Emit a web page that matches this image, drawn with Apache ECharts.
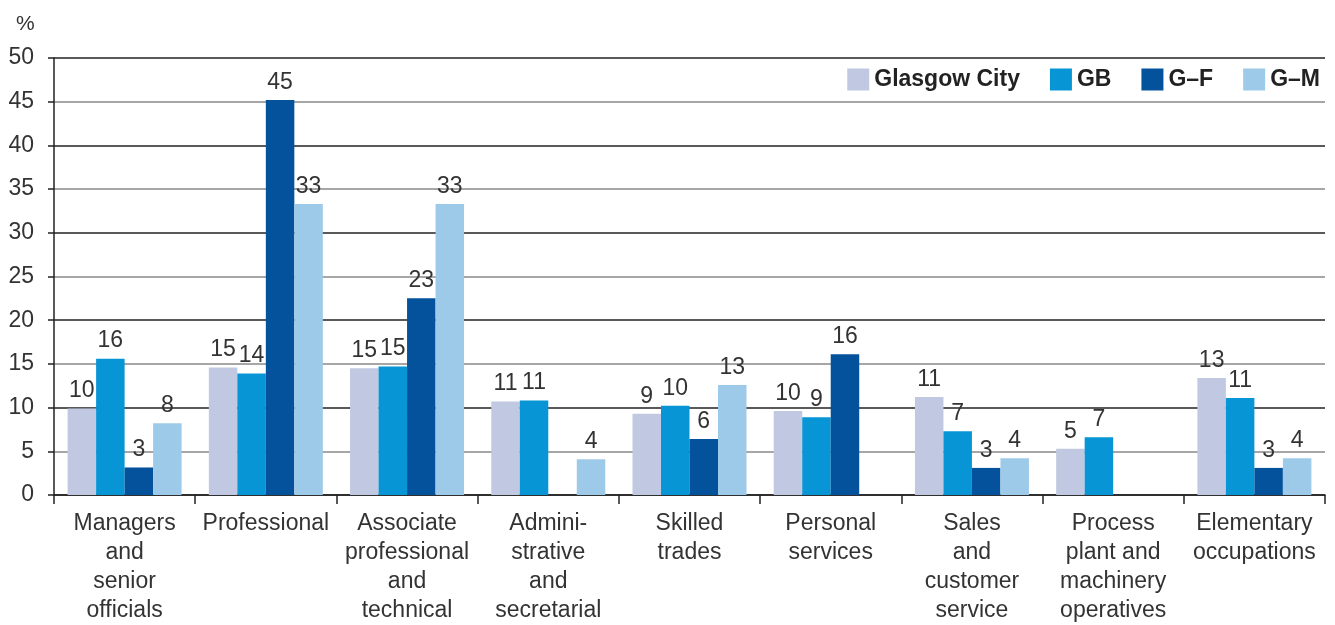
<!DOCTYPE html>
<html>
<head>
<meta charset="utf-8">
<script src="https://cdn.jsdelivr.net/npm/echarts@6/dist/echarts.min.js"></script>
<style>html,body{margin:0;padding:0;background:#fff}#c{width:1335px;height:625px}</style>
</head>
<body>
<div id="c"></div>
<script>
const categories = [
  "Managers\nand\nsenior\nofficials",
  "Professional",
  "Associate\nprofessional\nand\ntechnical",
  "Admini-\nstrative\nand\nsecretarial",
  "Skilled\ntrades",
  "Personal\nservices",
  "Sales\nand\ncustomer\nservice",
  "Process\nplant and\nmachinery\noperatives",
  "Elementary\noccupations"
];
const seriesNames = ["Glasgow City", "GB", "G\u2013F", "G\u2013M"];
const glasgowCity = [9.9, 14.6, 14.5, 10.7, 9.3, 9.6, 11.2, 5.3, 13.4];
const gb          = [15.6, 13.9, 14.7, 10.8, 10.2, 8.9, 7.3, 6.6, 11.1];
const gF          = [3.15, 45.2, 22.5, null, 6.4, 16.1, 3.1, null, 3.1];
const gM          = [8.2, 33.3, 33.3, 4.1, 12.6, null, 4.2, null, 4.2];
const yTicks = [0, 5, 10, 15, 20, 25, 30, 35, 40, 45, 50];

const colors = ["#c1c9e2", "#0795d6", "#03529b", "#9ecae9"];
const FONT = "Liberation Sans";
const allData = [glasgowCity, gb, gF, gM];

const chart = echarts.init(document.getElementById('c'));
chart.setOption({
  animation: false,
  color: colors,
  textStyle: { fontFamily: FONT },
  title: { text: '%', left: 11, top: 9, textStyle: { fontFamily: FONT, fontSize: 21, fontWeight: 'normal', color: '#333' } },
  legend: {
    right: 10, top: 60,
    padding: [8, 5, 7, 8],
    backgroundColor: '#fff',
    itemWidth: 22, itemHeight: 22, itemGap: 30,
    icon: 'rect',
    textStyle: { fontFamily: FONT, fontSize: 23, fontWeight: 'bold', color: '#222' },
    data: seriesNames
  },
  grid: { left: 54, right: 10, top: 58, bottom: 122, containLabel: false },
  xAxis: {
    type: 'category',
    data: categories,
    axisLine: { lineStyle: { color: '#222', width: 1.5 } },
    axisTick: { show: true, length: 9, lineStyle: { color: '#222', width: 1.5 } },
    axisLabel: { fontFamily: FONT, fontSize: 23, color: '#333', lineHeight: 29, margin: 14, interval: 0 }
  },
  yAxis: {
    type: 'value', min: yTicks[0], max: yTicks[yTicks.length - 1], interval: 5,
    axisLine: { show: true, lineStyle: { color: '#222', width: 1.5 } },
    axisTick: { show: true, length: 6, lineStyle: { color: '#222', width: 1.5 } },
    axisLabel: { fontFamily: FONT, fontSize: 23, color: '#333', margin: 20 },
    splitLine: { show: true, lineStyle: { color: ['#222', '#888'], width: 1.5 } }
  },
  series: seriesNames.map((name, i) => ({
    name: name,
    type: 'bar',
    data: allData[i],
    barWidth: 28.5,
    barGap: '0%',
    label: {
      show: true, position: 'top', distance: 6,
      fontFamily: FONT, fontSize: 23, color: '#333',
      formatter: p => (p.value == null ? '' : String(Math.round(p.value)))
    }
  }))
});
</script>
</body>
</html>
